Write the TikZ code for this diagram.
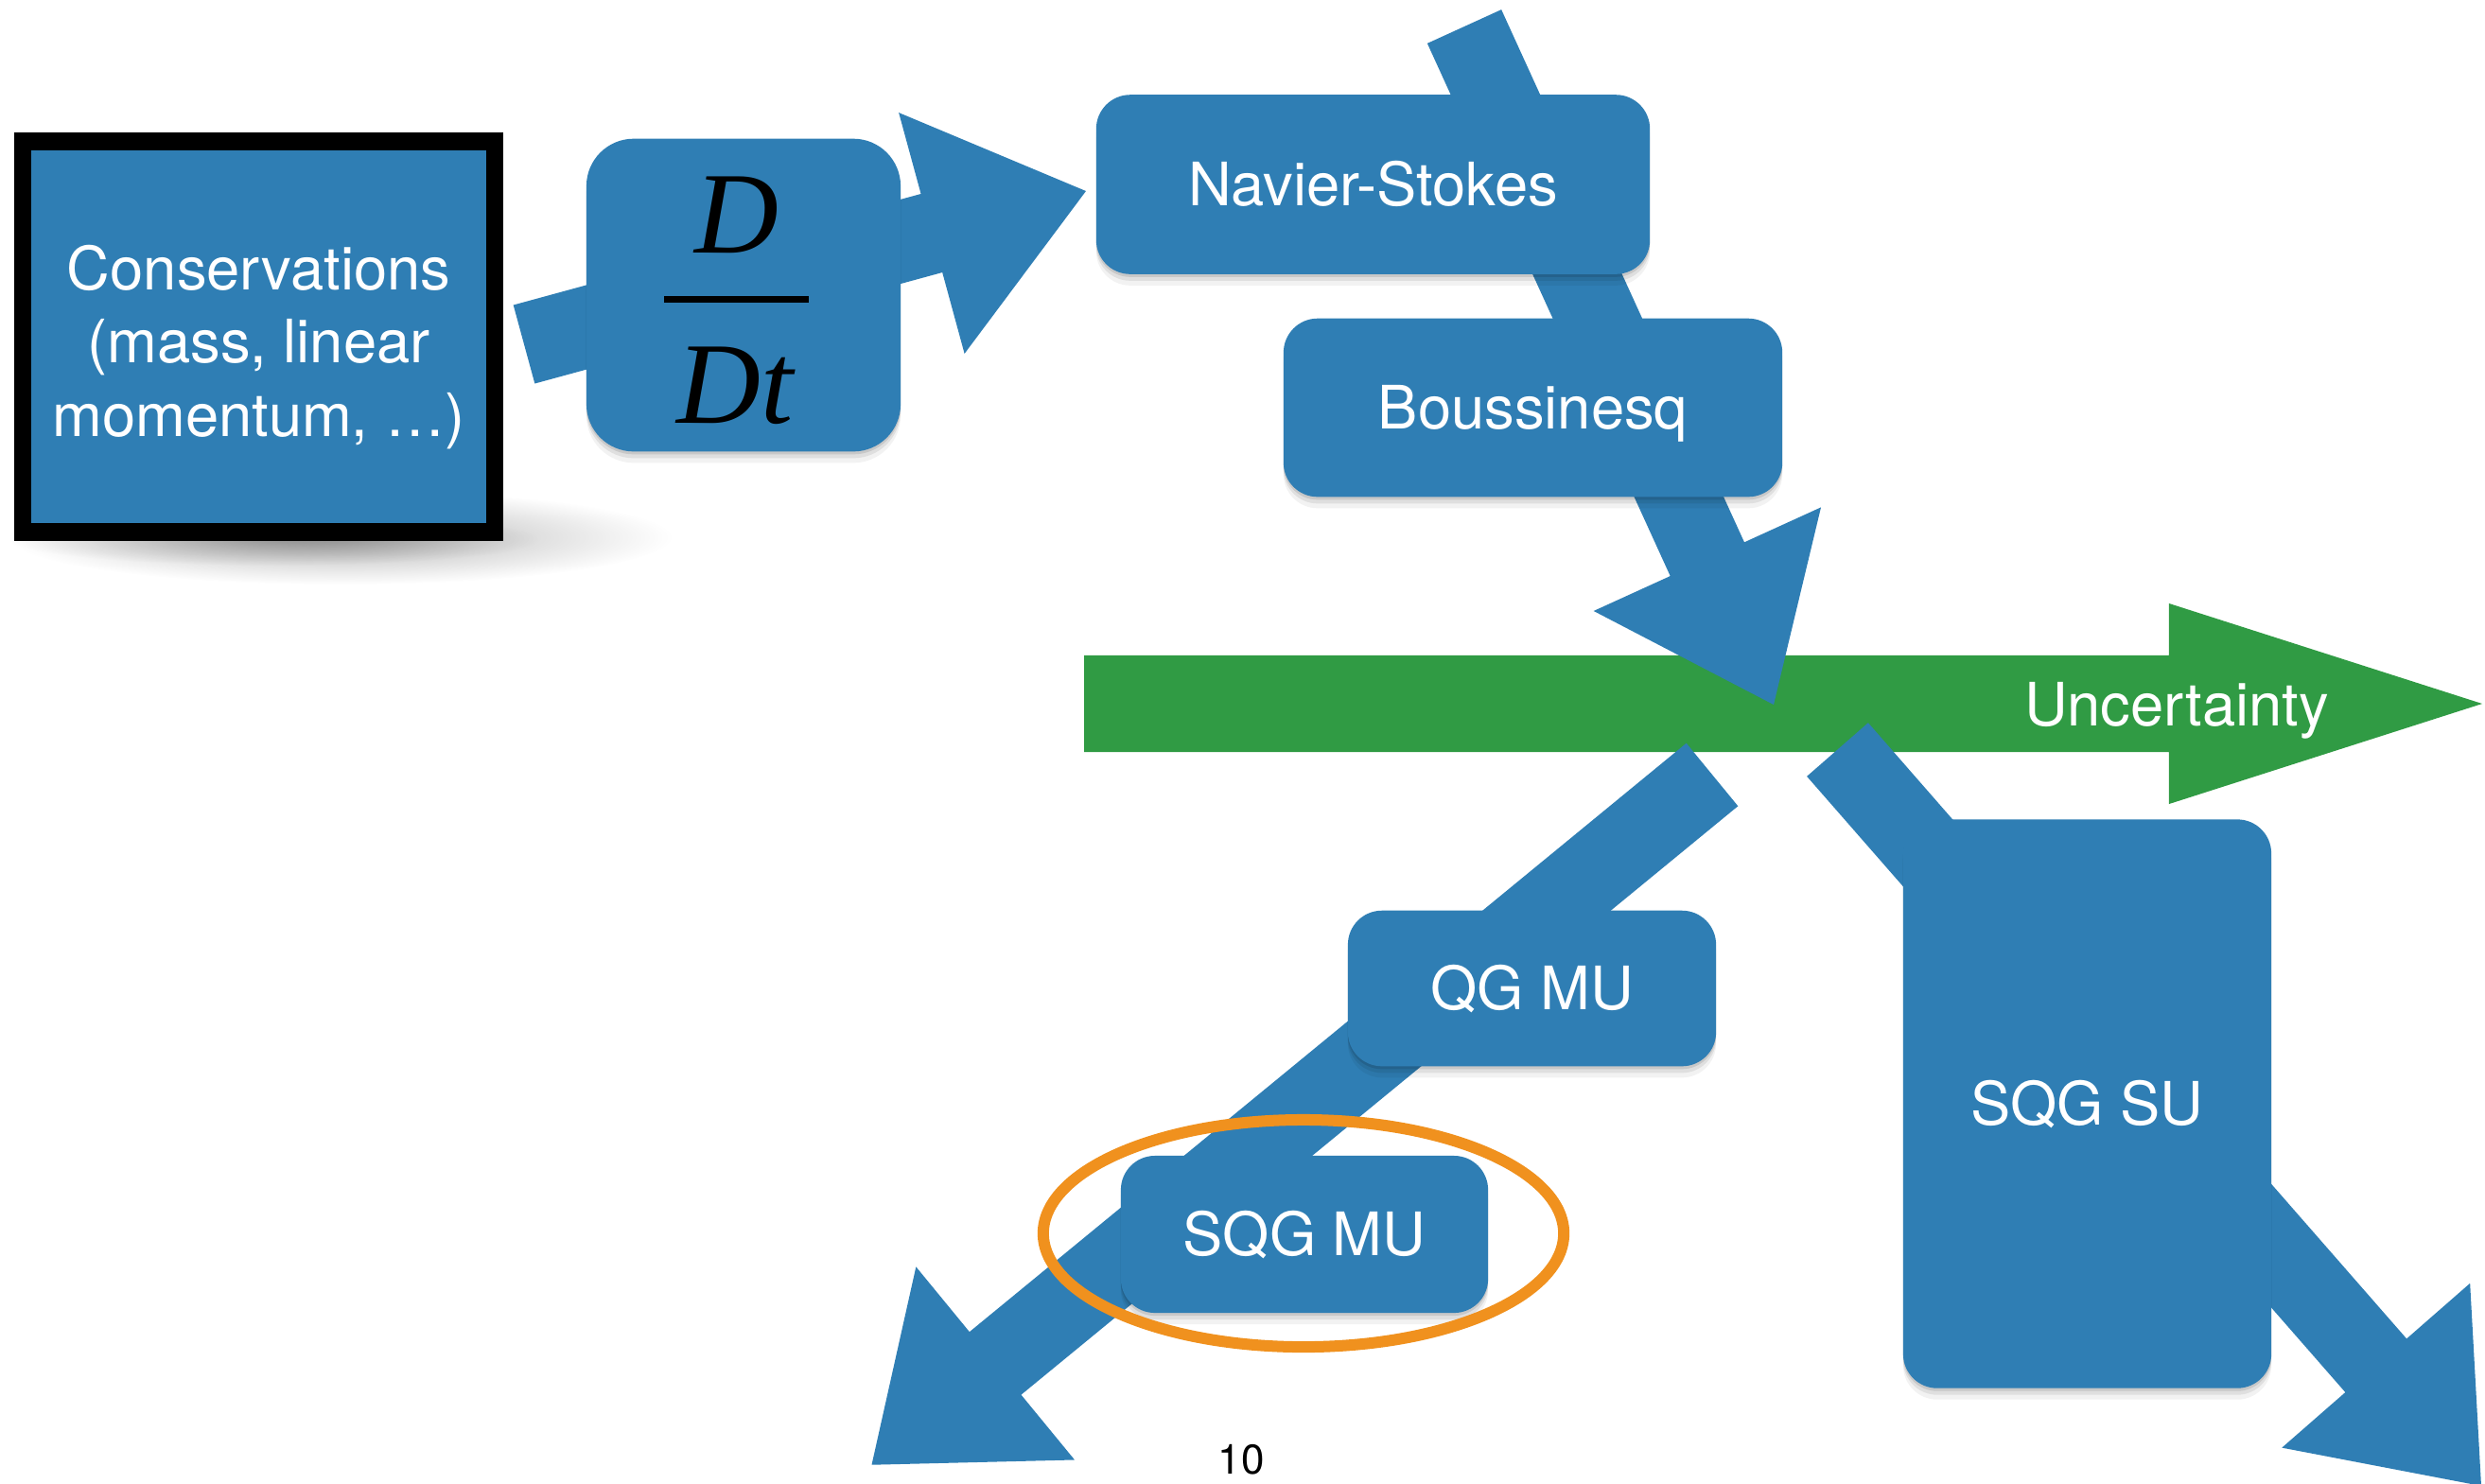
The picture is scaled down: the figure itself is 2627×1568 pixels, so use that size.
\documentclass[tikz,border=0pt]{standalone}
\usepackage{fontspec}
\setmainfont{TeX Gyre Heros}
\newfontfamily\dtfamily{Liberation Serif}
\usetikzlibrary{calc,shadows,shapes.geometric,fadings}
\definecolor{paperblue}{RGB}{47,126,180}
\definecolor{papergreen}{RGB}{48,155,68}
\definecolor{ringorange}{RGB}{240,145,30}

\tikzfading[name=softshadow, inner color=transparent!0, outer color=transparent!100]

% fat arrow: #1 fill, #2 start coordinate, #3 tip coordinate,
% #4 shaft half width, #5 head half width, #6 head length
\newcommand{\fatarrow}[6]{%
  \coordinate (fa-b) at ($(#3)!#6!(#2)$);
  \fill[#1] ($(#2)!#4!90:(#3)$) -- ($(fa-b)!#4!90:(#3)$) -- ($(fa-b)!#5!90:(#3)$)
    -- (#3) -- ($(fa-b)!#5!-90:(#3)$) -- ($(fa-b)!#4!-90:(#3)$) -- ($(#2)!#4!-90:(#3)$) -- cycle;
}

\tikzset{
  boxshadow/.style={
    general shadow={fill=black, opacity=0.10, shadow yshift=-0.03cm},
    general shadow={fill=black, opacity=0.08, shadow yshift=-0.07cm},
    general shadow={fill=black, opacity=0.05, shadow yshift=-0.12cm}},
  boxtext/.style={font=\fontsize{18}{22}\selectfont, text height=13pt, text depth=0pt},
  box/.style={fill=paperblue, text=white, rounded corners=0.36cm, inner sep=0pt,
    boxtext, align=center, boxshadow},
  dtxt/.style={text=black, inner sep=0pt, anchor=base,
    font=\fontsize{35}{40}\selectfont\dtfamily\itshape},
}

\begin{document}
\begin{tikzpicture}[x=0.01cm, y=-0.01cm]
\fill[white] (0,0) rectangle (2627,1568);
\useasboundingbox (0,0) rectangle (2627,1568);

% arrow coordinates
\coordinate (a1s) at (554,364);   \coordinate (a1t) at (1148,202);
\coordinate (a2s) at (1548,28);   \coordinate (a2t) at (1875,745);
\coordinate (a3s) at (1810,819);  \coordinate (a3t) at (921.5,1548.7);
\coordinate (a4s) at (1942.5,792.5); \coordinate (a4t) at (2623,1571);
\coordinate (gs) at (1146,744);   \coordinate (gt) at (2624,744);

% green uncertainty arrow
\fatarrow{papergreen}{gs}{gt}{0.51cm}{1.06cm}{3.31cm}
\node[text=white, boxtext, inner sep=0pt] (unc) at (2301,745) {Uncertainty};

% blue arrows
\fatarrow{paperblue}{a1s}{a1t}{0.43cm}{1.32cm}{1.69cm}
\fatarrow{paperblue}{a2s}{a2t}{0.43cm}{1.32cm}{1.69cm}
\fatarrow{paperblue}{a3s}{a3t}{0.43cm}{1.32cm}{1.69cm}
\fatarrow{paperblue}{a4s}{a4t}{0.43cm}{1.32cm}{1.69cm}

% soft contact shadow under the conservation box
\fill[black, opacity=0.30, path fading=softshadow] (360,568) ellipse [x radius=3.5cm, y radius=0.5cm];
\fill[black, opacity=0.22, path fading=softshadow] (290,570) ellipse [x radius=2.8cm, y radius=0.28cm];

% conservation box
\node[fill=paperblue, draw=black, line width=0.185cm, inner sep=0pt,
  minimum width=4.99cm, minimum height=4.125cm] (cons) at (273.5,356) {};
\node[text=white, align=center, inner sep=0pt, font=\fontsize{18}{22}\selectfont]
  (constext) at (273.5,367) {Conservations\\(mass, linear\\momentum, \dots)};

% D/Dt box
\node[box, rounded corners=0.5cm, minimum width=3.32cm, minimum height=3.305cm] (ddt) at (786,312) {};
\node[dtxt] (ddtnum) at (779,267.5) {D};
\node[dtxt] (ddtden) at (777,447.6) {Dt};
\draw[line width=0.07cm] (702,316.5) -- (855,316.5);

% model boxes
\node[box, minimum width=5.85cm, minimum height=1.895cm] (ns) at (1451.5,195) {Navier-Stokes};
\node[box, minimum width=5.27cm, minimum height=1.885cm] (bq) at (1620.5,431) {Boussinesq};
\node[box, minimum width=3.89cm, minimum height=1.645cm] (qgmu) at (1619.5,1045) {QG MU};
\node[box, minimum width=3.88cm, minimum height=1.66cm] (sqgmu) at (1379,1305) {SQG MU};
\node[box, minimum width=3.89cm, minimum height=6.01cm] (sqgsu) at (2206.5,1167) {SQG SU};

% highlight ring
\node[draw=ringorange, line width=0.12cm, ellipse, inner sep=0pt,
  minimum width=5.5cm, minimum height=2.4cm] (ring) at (1378,1304) {};

% page number
\node[text=black, font=\fontsize{12.5}{15}\selectfont] (page) at (1312,1543) {10};
\end{tikzpicture}
\end{document}
